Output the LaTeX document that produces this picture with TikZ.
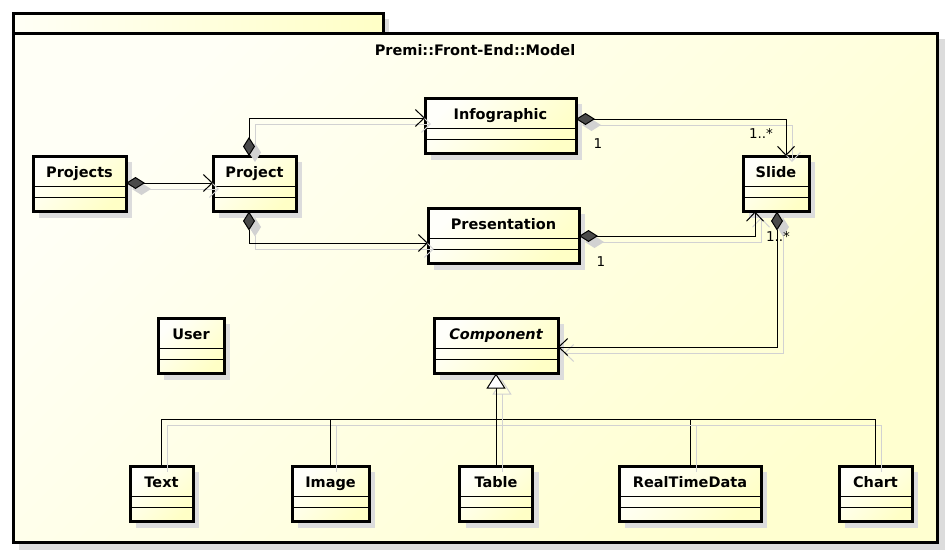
\documentclass[tikz,border=0pt]{standalone}
\usepackage{fontspec}
\setmainfont{DejaVu Sans}
\usetikzlibrary{arrows.meta,calc}
\definecolor{boxA}{HTML}{FFFFFA}
\definecolor{boxB}{HTML}{FFFFC6}
\definecolor{pkgA}{HTML}{FFFFF6}
\definecolor{pkgB}{HTML}{FFFFD0}
\definecolor{boxshd}{HTML}{DCDCDC}
\definecolor{lineshd}{HTML}{D2D2D2}
\definecolor{diag}{HTML}{4A4A4A}
\tikzset{
  clsbox/.style={draw, line width=3pt, outer sep=0pt, inner sep=0pt,
    top color=boxA, bottom color=boxB, shading angle=45},
  clsname/.style={font=\fontsize{14.5}{16}\selectfont\bfseries, inner sep=0pt},
  cmpline/.style={line width=1pt},
  mult/.style={font=\fontsize{13.5}{15}\selectfont, inner sep=0pt},
  conn/.style={line width=1pt},
  lshd/.style={draw=lineshd, line width=1pt, transform canvas={shift={(6pt,-6pt)}}},
  compo/.style={conn, {Diamond[length=19pt,width=12pt,fill=diag]}-{Straight Barb[length=9pt,width=17pt]},
    preaction={lshd, {Diamond[length=19pt,width=12pt,fill=lineshd]}-{Straight Barb[length=9pt,width=17pt]}}},
  gen/.style={conn, -{Triangle[length=15pt,width=19pt,fill=white]},
    preaction={lshd, -{Triangle[open,length=15pt,width=19pt]}}},
  tree/.style={conn, preaction={lshd}},
}
\newcommand{\umlcls}[5]{%
  \fill[boxshd] (#2+6,#3+6) rectangle (#2+#4+6,#3+61.5);
  \node[clsbox, minimum width=#4pt, minimum height=55.5pt, anchor=north west] (#1) at (#2,#3) {};
  \node[clsname, anchor=base] (#1-lbl) at ($(#1.north)+(0,21)$) {#5};
  \draw[cmpline] ($(#1.north west)+(0,30)$) -- ($(#1.north east)+(0,30)$);
  \draw[cmpline] ($(#1.north west)+(0,41)$) -- ($(#1.north east)+(0,41)$);
}
\begin{document}
\begin{tikzpicture}[x=1pt,y=-1pt]
\useasboundingbox (0,0) rectangle (950,554);
% package
\fill[boxshd] (19,19) rectangle (389,39);
\fill[boxshd] (19,39) rectangle (945,550);
\node[draw, line width=3pt, outer sep=0pt, inner sep=0pt, left color=pkgA, right color=boxB,
  minimum width=370pt, minimum height=20pt, anchor=north west] (tab) at (13,13) {};
\node[draw, line width=3pt, outer sep=0pt, inner sep=0pt, top color=pkgA, bottom color=pkgB, shading angle=45,
  minimum width=924pt, minimum height=509pt, anchor=north west] (pkg) at (13,33) {};
\node[clsname, anchor=base] (title) at (475,55) {Premi::Front-End::Model};
% classes
\umlcls{Projects}{33}{156}{93}{Projects}
\umlcls{Project}{213}{156}{83}{Project}
\umlcls{Infographic}{425}{98}{151}{Infographic}
\umlcls{Slide}{743}{156}{66}{Slide}
\umlcls{Presentation}{428}{208}{151}{Presentation}
\umlcls{User}{158}{318}{66}{User}
\umlcls{Component}{434}{318}{124}{\itshape Component}
\umlcls{Text}{130}{466}{63}{Text}
\umlcls{Image}{292}{466}{77}{Image}
\umlcls{Table}{459.5}{466}{73}{Table}
\umlcls{RealTimeData}{619}{466}{142}{RealTimeData}
\umlcls{Chart}{839}{466}{73}{Chart}
% connectors
\draw[compo] ([yshift=-27pt]Projects.north east) -- ([yshift=-27pt]Project.north west);
\draw[compo] ([xshift=-5.5pt]Project.north) |- ([yshift=-20pt]Infographic.north west);
\draw[compo] ([xshift=-5.5pt]Project.south) |- ([yshift=-35pt]Presentation.north west);
\draw[compo] ([yshift=-21pt]Infographic.north east) -| ([xshift=10pt]Slide.north);
\draw[compo] ([yshift=-28pt]Presentation.north east) -| ([xshift=-21pt]Slide.south);
\draw[compo] ([xshift=1pt]Slide.south) |- ([yshift=-29pt]Component.north east);
\coordinate (junc) at (496,419);
\draw[tree] (Text.north) |- (junc);
\draw[tree] (Image.north) |- (junc);
\draw[tree] (RealTimeData.north) |- (junc);
\draw[tree] (Chart.north) |- (junc);
\draw[gen] (Table.north) -- (Component.south);
% multiplicities
\node[mult] (m1) at (598,144) {1};
\node[mult] (m2) at (761,133) {1..*};
\node[mult] (m3) at (601,262) {1};
\node[mult] (m4) at (778,236) {1..*};
\end{tikzpicture}
\end{document}
